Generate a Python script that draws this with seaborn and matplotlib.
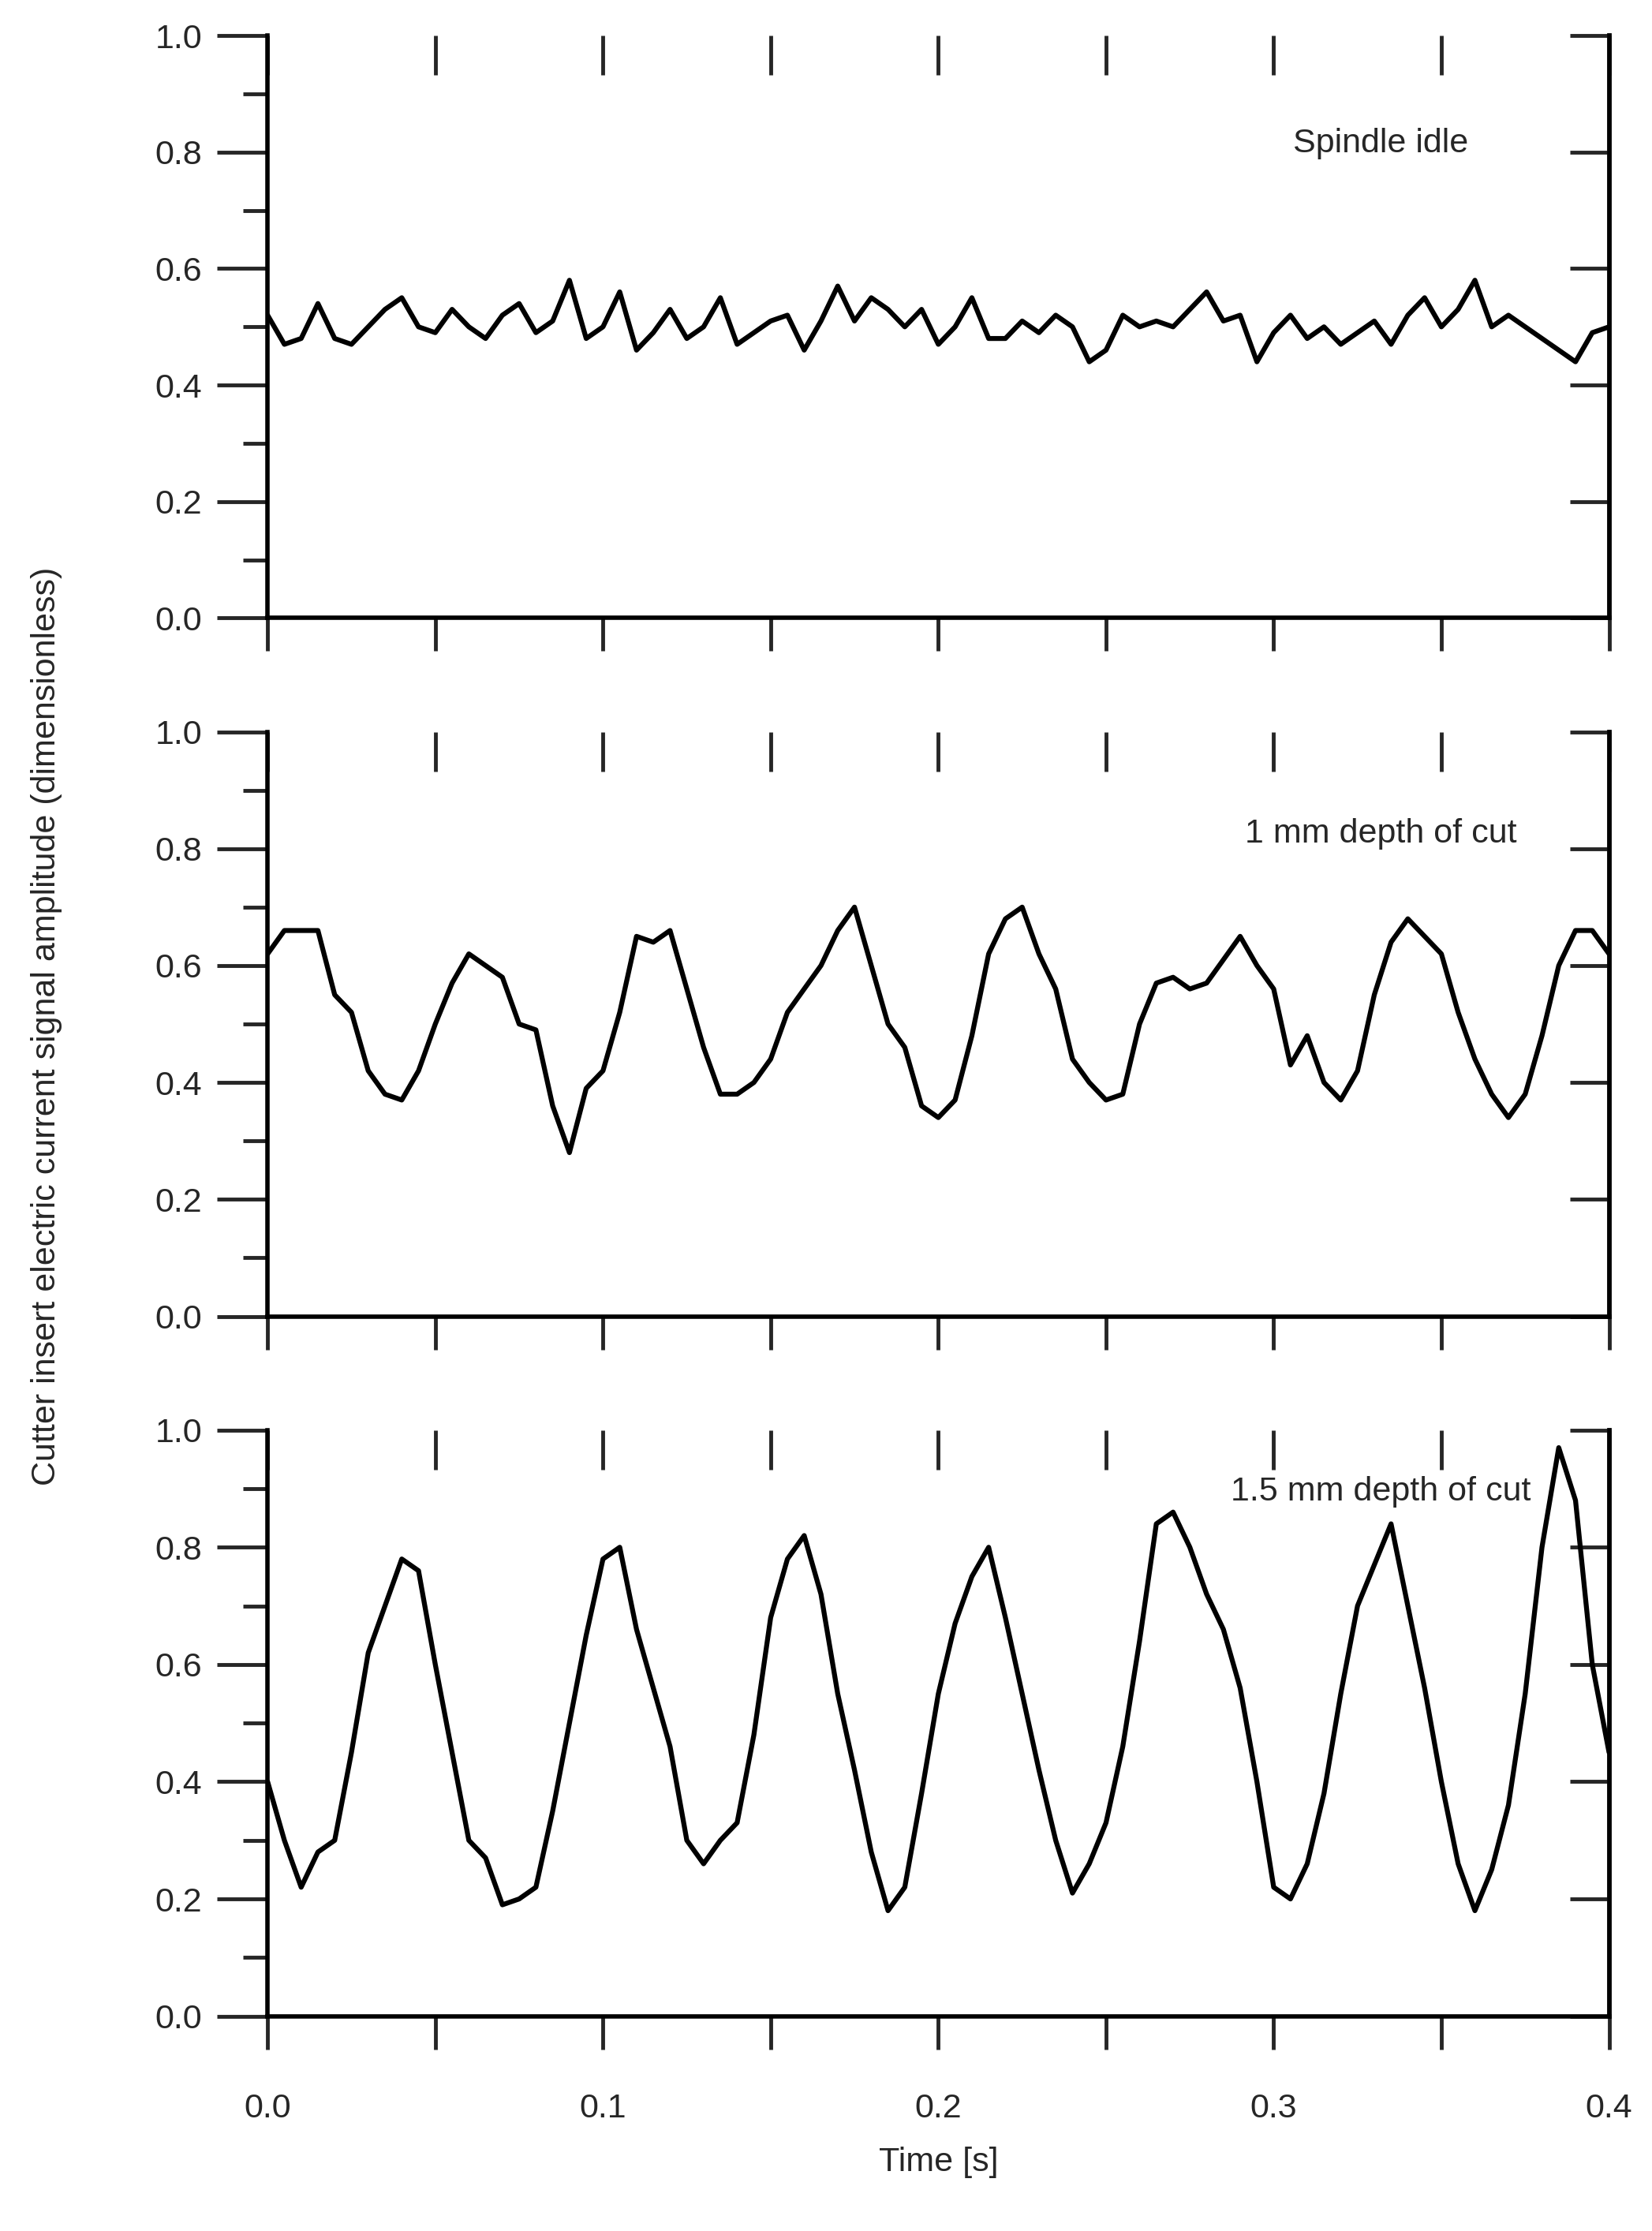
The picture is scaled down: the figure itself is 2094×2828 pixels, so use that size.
import numpy as np
import pandas as pd
import matplotlib
matplotlib.use("Agg")
import matplotlib.pyplot as plt
import seaborn as sns
from matplotlib.ticker import MultipleLocator

idle = [0.52,0.47,0.48,0.54,0.48,0.47,0.50,0.53,0.55,0.50,0.49,0.53,0.50,0.48,0.52,0.54,0.49,0.51,0.58,0.48,
        0.50,0.56,0.46,0.49,0.53,0.48,0.50,0.55,0.47,0.49,0.51,0.52,0.46,0.51,0.57,0.51,0.55,0.53,0.50,0.53,
        0.47,0.50,0.55,0.48,0.48,0.51,0.49,0.52,0.50,0.44,0.46,0.52,0.50,0.51,0.50,0.53,0.56,0.51,0.52,0.44,
        0.49,0.52,0.48,0.50,0.47,0.49,0.51,0.47,0.52,0.55,0.50,0.53,0.58,0.50,0.52,0.50,0.48,0.46,0.44,0.49,0.50]
cut1 = [0.62,0.66,0.66,0.66,0.55,0.52,0.42,0.38,0.37,0.42,0.50,0.57,0.62,0.60,0.58,0.50,0.49,0.36,0.28,0.39,
        0.42,0.52,0.65,0.64,0.66,0.56,0.46,0.38,0.38,0.40,0.44,0.52,0.56,0.60,0.66,0.70,0.60,0.50,0.46,0.36,
        0.34,0.37,0.48,0.62,0.68,0.70,0.62,0.56,0.44,0.40,0.37,0.38,0.50,0.57,0.58,0.56,0.57,0.61,0.65,0.60,
        0.56,0.43,0.48,0.40,0.37,0.42,0.55,0.64,0.68,0.65,0.62,0.52,0.44,0.38,0.34,0.38,0.48,0.60,0.66,0.66,0.62]
cut15 = [0.40,0.30,0.22,0.28,0.30,0.45,0.62,0.70,0.78,0.76,0.60,0.45,0.30,0.27,0.19,0.20,0.22,0.35,0.50,0.65,
         0.78,0.80,0.66,0.56,0.46,0.30,0.26,0.30,0.33,0.48,0.68,0.78,0.82,0.72,0.55,0.42,0.28,0.18,0.22,0.38,
         0.55,0.67,0.75,0.80,0.68,0.55,0.42,0.30,0.21,0.26,0.33,0.46,0.64,0.84,0.86,0.80,0.72,0.66,0.56,0.40,
         0.22,0.20,0.26,0.38,0.55,0.70,0.77,0.84,0.70,0.56,0.40,0.26,0.18,0.25,0.36,0.55,0.80,0.97,0.88,0.60,0.45]
labels = ["Spindle idle", "1 mm depth of cut", "1.5 mm depth of cut"]
series = [idle, cut1, cut15]

sns.set_theme(style="white")
plt.rcParams['font.family'] = ['Liberation Sans', 'DejaVu Sans']

fig = plt.figure(figsize=(20.94, 28.28), dpi=100)
boxes = [(0.723, 0.984), (0.410, 0.672), (0.0963, 0.359)]
L, R = 0.162, 0.974
for i, (vals, lab, (b, t)) in enumerate(zip(series, labels, boxes)):
    ax = fig.add_axes([L, b, R - L, t - b])
    df = pd.DataFrame({"t": np.linspace(0, 0.4, len(vals)), "v": vals})
    sns.lineplot(data=df, x="t", y="v", ax=ax, color="black", lw=4.5)
    ax.set_xlim(0, 0.4); ax.set_ylim(0, 1.0)
    ax.xaxis.set_major_locator(MultipleLocator(0.1)); ax.xaxis.set_minor_locator(MultipleLocator(0.05))
    ax.yaxis.set_major_locator(MultipleLocator(0.2)); ax.yaxis.set_minor_locator(MultipleLocator(0.1))
    for s in ax.spines.values():
        s.set_linewidth(4); s.set_color("black")
    ax.spines["top"].set_visible(False)
    ax.tick_params(axis="y", which="major", direction="out", length=46, width=3.5, labelsize=31,
                   left=True, right=False, pad=14)
    ax.tick_params(axis="y", which="minor", direction="out", length=22, width=3.5, left=True, right=False)
    ax.tick_params(axis="x", which="both", direction="out", length=30, width=3.5, labelsize=31,
                   bottom=True, top=False, pad=40)
    ax2 = ax.secondary_yaxis("right")
    ax2.yaxis.set_major_locator(MultipleLocator(0.2)); ax2.yaxis.set_minor_locator(MultipleLocator(0.1))
    ax2.tick_params(which="major", direction="in", length=36, width=3.5, labelright=False)
    ax2.tick_params(which="minor", direction="in", length=0)
    ax2.spines["right"].set_linewidth(4)
    ax3 = ax.secondary_xaxis("top")
    ax3.xaxis.set_major_locator(MultipleLocator(0.05))
    ax3.tick_params(which="major", direction="in", length=36, width=3.5, labeltop=False)
    ax3.tick_params(which="minor", length=0)
    ax3.spines["top"].set_visible(False)
    ax.set_xlabel(""); ax.set_ylabel("")
    if i < 2:
        ax.tick_params(axis="x", labelbottom=False)
    ypos = [0.80, 0.81, 0.88][i]
    ax.text(0.83, ypos, lab, transform=ax.transAxes, fontsize=31, ha="center")
    if i == 2:
        ax.set_xlabel("Time [s]", fontsize=31, labelpad=20)

fig.text(0.028, 0.54, "Cutter insert electric current signal amplitude (dimensionless)",
         rotation=90, va="center", ha="center", fontsize=31)
fig.savefig("out.png", dpi=100, facecolor="white")
